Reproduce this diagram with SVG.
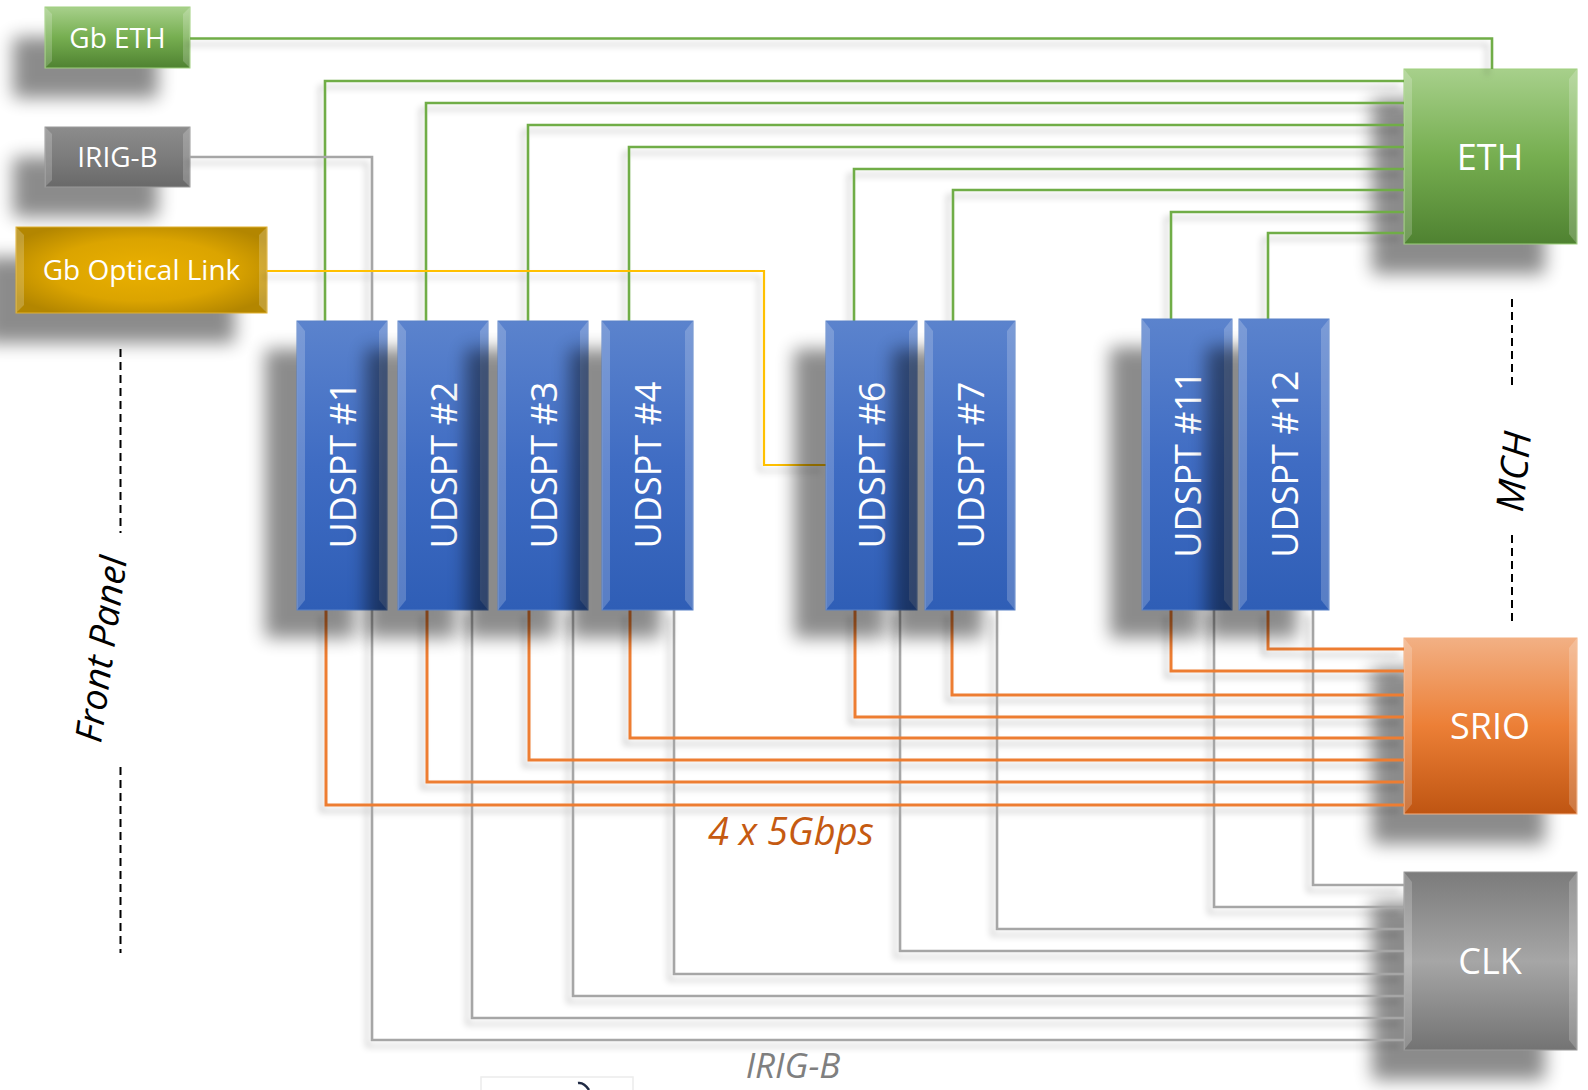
<svg xmlns="http://www.w3.org/2000/svg" width="1588" height="1090" viewBox="0 0 1588 1090">
<defs>
<linearGradient id="gBlue" x1="0" y1="0" x2="0" y2="1">
<stop offset="0" stop-color="#5b83cd"/><stop offset="0.5" stop-color="#3f6cc3"/><stop offset="1" stop-color="#2f5eb6"/>
</linearGradient>
<linearGradient id="gGreen" x1="0" y1="0" x2="0" y2="1">
<stop offset="0" stop-color="#a7d08b"/><stop offset="0.5" stop-color="#76ae50"/><stop offset="1" stop-color="#4f8231"/>
</linearGradient>
<linearGradient id="gGray" x1="0" y1="0" x2="0" y2="1">
<stop offset="0" stop-color="#8c8c8c"/><stop offset="0.5" stop-color="#7c7c7c"/><stop offset="1" stop-color="#696969"/>
</linearGradient>
<linearGradient id="gClk" x1="0" y1="0" x2="0" y2="1">
<stop offset="0" stop-color="#7b7b7b"/><stop offset="0.5" stop-color="#a6a6a6"/><stop offset="1" stop-color="#737373"/>
</linearGradient>
<linearGradient id="gOrange" x1="0" y1="0" x2="0" y2="1">
<stop offset="0" stop-color="#f2b084"/><stop offset="0.5" stop-color="#ec7f36"/><stop offset="1" stop-color="#bf5512"/>
</linearGradient>
<radialGradient id="gGold" cx="0.5" cy="0.5" r="0.6">
<stop offset="0" stop-color="#eab000"/><stop offset="0.6" stop-color="#dba400"/><stop offset="1" stop-color="#b38600"/>
</radialGradient>
<filter id="blur" x="-50%" y="-50%" width="200%" height="200%"><feGaussianBlur stdDeviation="9"/></filter>
<filter id="lineShadow" x="-5%" y="-5%" width="110%" height="110%"><feDropShadow dx="-5" dy="6" stdDeviation="3" flood-color="#000" flood-opacity="0.22"/></filter>
<style>
.sh{fill:#000;opacity:0.45;filter:url(#blur)}
.bvl{fill:#fff;opacity:0.2}
.bvr{fill:#fff;opacity:0.2}
.lbl{font-family:"Open Sans","Noto Sans",sans-serif;fill:#fff;text-anchor:middle}
.ud{font-size:36px}
.g{fill:none;stroke:#70ad47;stroke-width:2.6}
.y{fill:none;stroke:#ffc000;stroke-width:2.2}
.gr{fill:none;stroke:#a6a6a6;stroke-width:2.6}
.o{fill:none;stroke:#ed7d31;stroke-width:3}
.dash{fill:none;stroke:#000;stroke-width:2;stroke-dasharray:8 5}
.it{font-family:"Open Sans","Noto Sans",sans-serif;font-style:italic;text-anchor:middle}
</style>
</defs>
<rect width="1588" height="1090" fill="#fff"/>

<g id="gb-eth">
<rect class="sh" x="13" y="37" width="145" height="61"/>
<rect x="45" y="7" width="145" height="61" fill="url(#gGreen)" stroke="#9fd07f" stroke-width="1"/>
<polygon class="bvl" points="45,7 52,14 52,61 45,68"/>
<polygon class="bvr" points="190,7 183,14 183,61 190,68"/>
<text class="lbl" x="117.5" y="48" font-size="28">Gb ETH</text>
</g>
<g id="irig-b">
<rect class="sh" x="13" y="157" width="145" height="60"/>
<rect x="45" y="127" width="145" height="60" fill="url(#gGray)" stroke="#9a9a9a" stroke-width="1"/>
<polygon class="bvl" points="45,127 52,134 52,180 45,187"/>
<polygon class="bvr" points="190,127 183,134 183,180 190,187"/>
<text class="lbl" x="117.5" y="167" font-size="28">IRIG-B</text>
</g>
<g id="gb-optical-link">
<rect class="sh" x="-16" y="257" width="251" height="86"/>
<rect x="16" y="227" width="251" height="86" fill="url(#gGold)" stroke="#e0b030" stroke-width="1"/>
<polygon class="bvl" points="16,227 24,235 24,305 16,313"/>
<polygon class="bvr" points="267,227 259,235 259,305 267,313"/>
<text class="lbl" x="141.5" y="280" font-size="28">Gb Optical Link</text>
</g>
<g id="eth">
<rect class="sh" x="1372" y="99" width="173" height="175"/>
<rect x="1404" y="69" width="173" height="175" fill="url(#gGreen)" stroke="#9fd07f" stroke-width="1"/>
<polygon class="bvl" points="1404,69 1412,79 1412,234 1404,244"/>
<polygon class="bvr" points="1577,69 1569,79 1569,234 1577,244"/>
<text class="lbl" x="1490" y="170" font-size="36">ETH</text>
</g>
<g id="srio">
<rect class="sh" x="1372" y="668" width="173" height="176"/>
<rect x="1404" y="638" width="173" height="176" fill="url(#gOrange)" stroke="#f4b183" stroke-width="1"/>
<polygon class="bvl" points="1404,638 1412,648 1412,804 1404,814"/>
<polygon class="bvr" points="1577,638 1569,648 1569,804 1577,814"/>
<text class="lbl" x="1490" y="739" font-size="36">SRIO</text>
</g>
<g id="clk">
<rect class="sh" x="1372" y="902" width="173" height="178"/>
<rect x="1404" y="872" width="173" height="178" fill="url(#gClk)" stroke="#9a9a9a" stroke-width="1"/>
<polygon class="bvl" points="1404,872 1412,882 1412,1040 1404,1050"/>
<polygon class="bvr" points="1577,872 1569,882 1569,1040 1577,1050"/>
<text class="lbl" x="1490" y="974" font-size="36">CLK</text>
</g>

<g id="connectors" filter="url(#lineShadow)">
<path class="g" d="M190,38.5 H1492 V69"/>
<path class="g" d="M325,321 V81 H1404"/>
<path class="g" d="M426,321 V103 H1404"/>
<path class="g" d="M528,321 V125 H1404"/>
<path class="g" d="M629,321 V147 H1404"/>
<path class="g" d="M854,321 V169 H1404"/>
<path class="g" d="M953,321 V190 H1404"/>
<path class="g" d="M1171,319 V212 H1404"/>
<path class="g" d="M1268,319 V233 H1404"/>
<path class="gr" d="M190,157 H372 V1040 H1404"/>
<path class="gr" d="M472,610 V1018 H1404"/>
<path class="gr" d="M573,610 V996 H1404"/>
<path class="gr" d="M674,610 V974 H1404"/>
<path class="gr" d="M900,610 V951 H1404"/>
<path class="gr" d="M997,610 V929 H1404"/>
<path class="gr" d="M1214,610 V907 H1404"/>
<path class="gr" d="M1313,610 V885 H1404"/>
<path class="o" d="M326,610 V805 H1404"/>
<path class="o" d="M427,610 V782 H1404"/>
<path class="o" d="M529,610 V760 H1404"/>
<path class="o" d="M630,610 V738 H1404"/>
<path class="o" d="M855,610 V717 H1404"/>
<path class="o" d="M952,610 V695 H1404"/>
<path class="o" d="M1171,610 V671 H1404"/>
<path class="o" d="M1268,610 V649 H1404"/>
<path class="y" d="M267,271 H764 V465 H826"/>
</g>

<g id="udspt-1">
<rect class="sh" x="265" y="349" width="90" height="289"/>
<rect x="297" y="321" width="90" height="289" fill="url(#gBlue)" stroke="#5a82c8" stroke-width="1"/>
<polygon class="bvl" points="297,321 305,331 305,600 297,610"/>
<polygon class="bvr" points="387,321 379,331 379,600 387,610"/>
<text class="lbl ud" transform="translate(356,465) rotate(-90)">UDSPT #1</text>
</g>
<g id="udspt-2">
<rect class="sh" x="366" y="349" width="90" height="289"/>
<rect x="398" y="321" width="90" height="289" fill="url(#gBlue)" stroke="#5a82c8" stroke-width="1"/>
<polygon class="bvl" points="398,321 406,331 406,600 398,610"/>
<polygon class="bvr" points="488,321 480,331 480,600 488,610"/>
<text class="lbl ud" transform="translate(457,465) rotate(-90)">UDSPT #2</text>
</g>
<g id="udspt-3">
<rect class="sh" x="466" y="349" width="90" height="289"/>
<rect x="498" y="321" width="90" height="289" fill="url(#gBlue)" stroke="#5a82c8" stroke-width="1"/>
<polygon class="bvl" points="498,321 506,331 506,600 498,610"/>
<polygon class="bvr" points="588,321 580,331 580,600 588,610"/>
<text class="lbl ud" transform="translate(557,465) rotate(-90)">UDSPT #3</text>
</g>
<g id="udspt-4">
<rect class="sh" x="570" y="349" width="91" height="289"/>
<rect x="602" y="321" width="91" height="289" fill="url(#gBlue)" stroke="#5a82c8" stroke-width="1"/>
<polygon class="bvl" points="602,321 610,331 610,600 602,610"/>
<polygon class="bvr" points="693,321 685,331 685,600 693,610"/>
<text class="lbl ud" transform="translate(661,465) rotate(-90)">UDSPT #4</text>
</g>
<g id="udspt-6">
<rect class="sh" x="794" y="349" width="91" height="289"/>
<rect x="826" y="321" width="91" height="289" fill="url(#gBlue)" stroke="#5a82c8" stroke-width="1"/>
<polygon class="bvl" points="826,321 834,331 834,600 826,610"/>
<polygon class="bvr" points="917,321 909,331 909,600 917,610"/>
<text class="lbl ud" transform="translate(885,465) rotate(-90)">UDSPT #6</text>
</g>
<g id="udspt-7">
<rect class="sh" x="893" y="349" width="90" height="289"/>
<rect x="925" y="321" width="90" height="289" fill="url(#gBlue)" stroke="#5a82c8" stroke-width="1"/>
<polygon class="bvl" points="925,321 933,331 933,600 925,610"/>
<polygon class="bvr" points="1015,321 1007,331 1007,600 1015,610"/>
<text class="lbl ud" transform="translate(984,465) rotate(-90)">UDSPT #7</text>
</g>
<g id="udspt-11">
<rect class="sh" x="1110" y="347" width="90" height="291"/>
<rect x="1142" y="319" width="90" height="291" fill="url(#gBlue)" stroke="#5a82c8" stroke-width="1"/>
<polygon class="bvl" points="1142,319 1150,329 1150,600 1142,610"/>
<polygon class="bvr" points="1232,319 1224,329 1224,600 1232,610"/>
<text class="lbl ud" transform="translate(1201,464) rotate(-90)">UDSPT #11</text>
</g>
<g id="udspt-12">
<rect class="sh" x="1207" y="347" width="90" height="291"/>
<rect x="1239" y="319" width="90" height="291" fill="url(#gBlue)" stroke="#5a82c8" stroke-width="1"/>
<polygon class="bvl" points="1239,319 1247,329 1247,600 1239,610"/>
<polygon class="bvr" points="1329,319 1321,329 1321,600 1329,610"/>
<text class="lbl ud" transform="translate(1298,464) rotate(-90)">UDSPT #12</text>
</g>

<g id="front-panel">
<path class="dash" d="M120.5,349 V533"/>
<path class="dash" d="M120.5,767 V953"/>
<text class="it" font-size="37" fill="#000" transform="translate(114,651) rotate(-82)">Front Panel</text>
</g>
<g id="mch">
<path class="dash" d="M1512,299 V389"/>
<path class="dash" d="M1512,535 V621"/>
<text class="it" font-size="38" fill="#000" transform="translate(1527,473) rotate(-84)">MCH</text>
</g>
<text class="it" x="791" y="845" font-size="38" fill="#c55a11">4 x 5Gbps</text>
<text class="it" x="793" y="1078" font-size="35" fill="#7f7f7f">IRIG-B</text>
<path d="M481,1090 V1077 H633 V1090" fill="none" stroke="#ececec" stroke-width="1.5"/>
<path d="M578,1083 Q584,1082 589,1090" fill="none" stroke="#1f2a44" stroke-width="2.5"/>
</svg>
